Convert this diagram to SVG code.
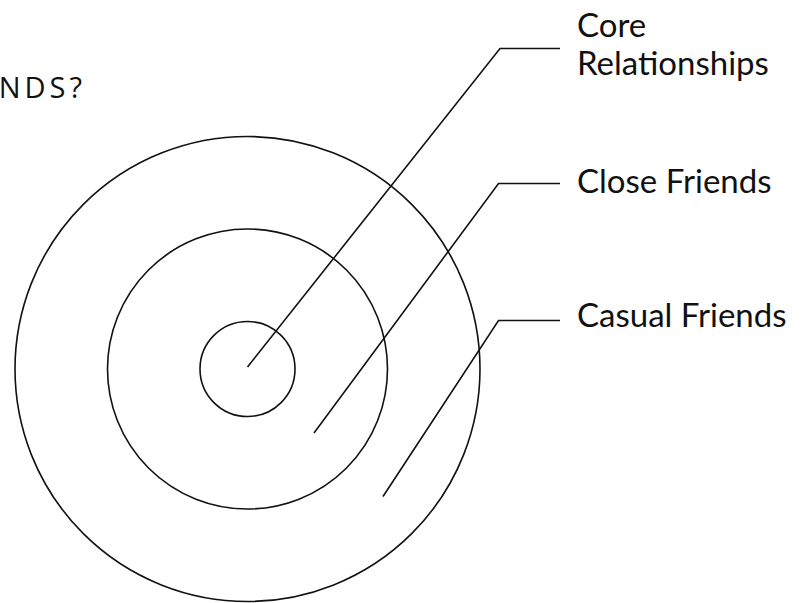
<svg xmlns="http://www.w3.org/2000/svg" width="802" height="603" viewBox="0 0 802 603">
<style>
.ring{fill:none;stroke:#111;stroke-width:1.6}
.lead{fill:none;stroke:#111;stroke-width:1.6;stroke-linejoin:miter}
.lbl{font-family:Lato,"Open Sans","Liberation Sans",sans-serif;font-size:33px;fill:#111}
.title{font-family:"Open Sans","Liberation Sans",sans-serif;font-size:29px;fill:#111;letter-spacing:4px}
</style>
<rect width="802" height="603" fill="#fff"/>
<text class="title" x="86" y="98" text-anchor="end">NDS?</text>
<g id="casual-ring"><circle class="ring" cx="247.5" cy="369" r="232.5"/></g>
<g id="close-ring"><circle class="ring" cx="247.5" cy="369" r="140"/></g>
<g id="core-ring"><circle class="ring" cx="247.5" cy="369" r="47.5"/></g>
<g id="connectors">
<polyline class="lead" points="247.5,367 500,48.5 560,48.5"/>
<polyline class="lead" points="314,433 498.5,183.5 560,183.5"/>
<polyline class="lead" points="383,496.5 498.5,320.5 560,320.5"/>
</g>
<g id="label-core"><text class="lbl" x="577" y="37">Core</text><text class="lbl" x="577" y="75">Relationships</text></g>
<g id="label-close"><text class="lbl" x="577" y="193">Close Friends</text></g>
<g id="label-casual"><text class="lbl" x="577" y="327">Casual Friends</text></g>
</svg>
